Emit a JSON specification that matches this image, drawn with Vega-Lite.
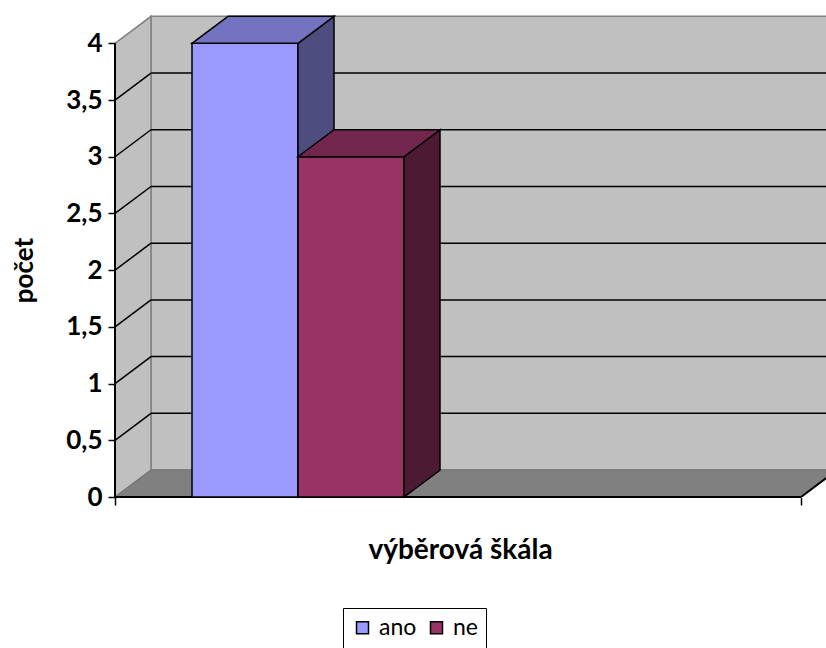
{
  "$schema": "https://vega.github.io/schema/vega-lite/v6.json",
  "width": 711,
  "height": 482,
  "autosize": {"type": "none"},
  "padding": {"left": 115, "top": 15, "right": 0, "bottom": 151},
  "background": "white",
  "config": {"view": {"stroke": null}, "font": "Lato"},
  "datasets": {
    "odpovedi": [
      {"skala": "výběrová škála", "odpoved": "ano", "pocet": 4},
      {"skala": "výběrová škála", "odpoved": "ne", "pocet": 3}
    ],
    "mrizka": [{"v": 0.5}, {"v": 1}, {"v": 1.5}, {"v": 2}, {"v": 2.5}, {"v": 3}, {"v": 3.5}],
    "rovina": [{"plocha": "stěny"}]
  },
  "layer": [
    {
      "data": {"name": "odpovedi"},
      "mark": {"type": "rule", "opacity": 0},
      "encoding": {
        "x": {"datum": 0, "type": "quantitative", "scale": {"domain": [0, 711], "nice": false, "zero": false},
          "axis": {"values": [0, 686], "labels": false, "domain": false, "grid": false, "ticks": true, "tickSize": 8, "tickColor": "black", "tickWidth": 1.5, "zindex": 1,
            "title": "výběrová škála", "titleFont": "Lato", "titleFontSize": 28, "titleFontWeight": "bold", "titleColor": "black", "titleX": 345, "titleY": 53, "titleBaseline": "middle", "titleAlign": "center"}},
        "y": {"field": "pocet", "type": "quantitative", "scale": {"domain": [0, 4.25], "nice": false, "zero": false},
          "axis": {"values": [0, 0.5, 1, 1.5, 2, 2.5, 3, 3.5, 4], "domain": false, "grid": false, "ticks": true, "tickSize": 7, "tickColor": "black", "tickWidth": 1.5, "zindex": 1,
            "labelExpr": "replace(format(datum.value, '~g'), '.', ',')", "labelFont": "Lato", "labelFontSize": 26, "labelFontWeight": "bold", "labelColor": "black", "labelPadding": 6,
            "title": "počet", "titleFont": "Lato", "titleFontSize": 26, "titleFontWeight": "bold", "titleColor": "black", "titleX": -91, "titleY": 255, "titleBaseline": "middle", "titleAlign": "center", "titleAngle": -90}}
      }
    },
    {
      "data": {"name": "rovina"},
      "mark": {"type": "rect", "fill": "#C0C0C0", "stroke": "#808080", "strokeWidth": 1.5, "clip": true},
      "encoding": {
        "x": {"datum": 36, "type": "quantitative"},
        "x2": {"datum": 800},
        "y": {"datum": 0.238, "type": "quantitative"},
        "y2": {"datum": 4.238}
      }
    },
    {
      "data": {"name": "rovina"},
      "transform": [
        {"calculate": "0", "as": "front"},
        {"calculate": "1", "as": "back"},
        {"fold": ["front", "back"], "as": ["strana", "d"]},
        {"calculate": "36 * datum.d", "as": "xw"},
        {"calculate": "0.238 * datum.d", "as": "ylo"},
        {"calculate": "4 + 0.238 * datum.d", "as": "yhi"}
      ],
      "mark": {"type": "area", "orient": "vertical", "fill": "#C0C0C0", "stroke": "#808080", "strokeWidth": 1.5},
      "encoding": {
        "x": {"field": "xw", "type": "quantitative"},
        "y": {"field": "yhi", "type": "quantitative", "stack": null},
        "y2": {"field": "ylo"}
      }
    },
    {
      "data": {"name": "rovina"},
      "transform": [
        {"calculate": "0", "as": "front"},
        {"calculate": "1", "as": "back"},
        {"fold": ["front", "back"], "as": ["strana", "d"]},
        {"calculate": "36 * datum.d", "as": "xl"},
        {"calculate": "686 + 36 * datum.d", "as": "xr"},
        {"calculate": "0.238 * datum.d", "as": "yf"}
      ],
      "mark": {"type": "area", "orient": "horizontal", "fill": "#808080", "stroke": "#707070", "strokeWidth": 1, "clip": true},
      "encoding": {
        "y": {"field": "yf", "type": "quantitative"},
        "x": {"field": "xl", "type": "quantitative", "stack": null},
        "x2": {"field": "xr"}
      }
    },
    {
      "data": {"name": "mrizka"},
      "transform": [{"calculate": "datum.v + 0.238", "as": "yb"}],
      "mark": {"type": "rule", "stroke": "black", "strokeWidth": 1.5, "clip": true},
      "encoding": {
        "x": {"datum": 36, "type": "quantitative"},
        "x2": {"datum": 711},
        "y": {"field": "yb", "type": "quantitative"}
      }
    },
    {
      "data": {"name": "mrizka"},
      "transform": [{"calculate": "datum.v + 0.238", "as": "yb"}],
      "mark": {"type": "rule", "stroke": "black", "strokeWidth": 1.5},
      "encoding": {
        "x": {"datum": 0, "type": "quantitative"},
        "x2": {"datum": 36},
        "y": {"field": "v", "type": "quantitative"},
        "y2": {"field": "yb"}
      }
    },
    {
      "data": {"name": "rovina"},
      "mark": {"type": "rule", "stroke": "black", "strokeWidth": 2},
      "encoding": {
        "x": {"datum": 0, "type": "quantitative"},
        "x2": {"datum": 686},
        "y": {"datum": 0, "type": "quantitative"}
      }
    },
    {
      "data": {"name": "rovina"},
      "mark": {"type": "rule", "stroke": "black", "strokeWidth": 2, "clip": true},
      "encoding": {
        "x": {"datum": 686, "type": "quantitative"},
        "x2": {"datum": 722},
        "y": {"datum": 0, "type": "quantitative"},
        "y2": {"datum": 0.238}
      }
    },
    {
      "data": {"name": "rovina"},
      "mark": {"type": "rule", "stroke": "black", "strokeWidth": 2},
      "encoding": {
        "x": {"datum": 0, "type": "quantitative"},
        "y": {"datum": 0, "type": "quantitative"},
        "y2": {"datum": 4}
      }
    },
    {
      "data": {"name": "odpovedi"},
      "transform": [
        {"filter": "datum.odpoved == 'ano'"},
        {"calculate": "77 + 106 * indexof(['ano', 'ne'], datum.odpoved)", "as": "x0"},
        {"calculate": "datum.x0 + 106", "as": "x1"}
      ],
      "mark": {"type": "rect", "stroke": "black", "strokeWidth": 1.5},
      "encoding": {
        "x": {"field": "x0", "type": "quantitative"},
        "x2": {"field": "x1"},
        "y": {"field": "pocet", "type": "quantitative", "stack": null},
        "y2": {"datum": 0},
        "color": {"field": "odpoved", "type": "nominal", "scale": {"domain": ["ano", "ne"], "range": ["#9999FF", "#993366"]},
          "legend": {"orient": "none", "legendX": 228, "legendY": 593, "direction": "horizontal", "title": null, "strokeColor": "black", "padding": 8,
            "symbolType": "square", "symbolSize": 144, "symbolStrokeColor": "black", "symbolStrokeWidth": 1.5, "symbolOpacity": 1,
            "labelFont": "Lato", "labelFontSize": 23, "labelColor": "black", "labelOffset": 5, "columnPadding": 8}}
      }
    },
    {
      "data": {"name": "odpovedi"},
      "transform": [
        {"filter": "datum.odpoved == 'ano'"},
        {"calculate": "77 + 106 * indexof(['ano', 'ne'], datum.odpoved)", "as": "x0"},
        {"calculate": "datum.x0 + 106", "as": "x1"},
        {"calculate": "0", "as": "front"},
        {"calculate": "1", "as": "back"},
        {"fold": ["front", "back"], "as": ["strana", "d"]},
        {"calculate": "datum.x1 + 36 * datum.d", "as": "xs"},
        {"calculate": "0.238 * datum.d", "as": "ylo"},
        {"calculate": "datum.pocet + 0.238 * datum.d", "as": "yhi"}
      ],
      "mark": {"type": "area", "orient": "vertical", "fill": "#4D4D80", "stroke": "black", "strokeWidth": 1.5},
      "encoding": {
        "x": {"field": "xs", "type": "quantitative"},
        "y": {"field": "yhi", "type": "quantitative", "stack": null},
        "y2": {"field": "ylo"}
      }
    },
    {
      "data": {"name": "odpovedi"},
      "transform": [
        {"filter": "datum.odpoved == 'ano'"},
        {"calculate": "77 + 106 * indexof(['ano', 'ne'], datum.odpoved)", "as": "x0"},
        {"calculate": "datum.x0 + 106", "as": "x1"},
        {"calculate": "0", "as": "front"},
        {"calculate": "1", "as": "back"},
        {"fold": ["front", "back"], "as": ["strana", "d"]},
        {"calculate": "datum.x0 + 36 * datum.d", "as": "xl"},
        {"calculate": "datum.x1 + 36 * datum.d", "as": "xr"},
        {"calculate": "datum.pocet + 0.238 * datum.d", "as": "yt"}
      ],
      "mark": {"type": "area", "orient": "horizontal", "fill": "#7373BF", "stroke": "black", "strokeWidth": 1.5},
      "encoding": {
        "y": {"field": "yt", "type": "quantitative"},
        "x": {"field": "xl", "type": "quantitative", "stack": null},
        "x2": {"field": "xr"}
      }
    },
    {
      "data": {"name": "odpovedi"},
      "transform": [
        {"filter": "datum.odpoved == 'ne'"},
        {"calculate": "77 + 106 * indexof(['ano', 'ne'], datum.odpoved)", "as": "x0"},
        {"calculate": "datum.x0 + 106", "as": "x1"}
      ],
      "mark": {"type": "rect", "stroke": "black", "strokeWidth": 1.5},
      "encoding": {
        "x": {"field": "x0", "type": "quantitative"},
        "x2": {"field": "x1"},
        "y": {"field": "pocet", "type": "quantitative", "stack": null},
        "y2": {"datum": 0},
        "color": {"field": "odpoved", "type": "nominal"}
      }
    },
    {
      "data": {"name": "odpovedi"},
      "transform": [
        {"filter": "datum.odpoved == 'ne'"},
        {"calculate": "77 + 106 * indexof(['ano', 'ne'], datum.odpoved)", "as": "x0"},
        {"calculate": "datum.x0 + 106", "as": "x1"},
        {"calculate": "0", "as": "front"},
        {"calculate": "1", "as": "back"},
        {"fold": ["front", "back"], "as": ["strana", "d"]},
        {"calculate": "datum.x1 + 36 * datum.d", "as": "xs"},
        {"calculate": "0.238 * datum.d", "as": "ylo"},
        {"calculate": "datum.pocet + 0.238 * datum.d", "as": "yhi"}
      ],
      "mark": {"type": "area", "orient": "vertical", "fill": "#4D1A33", "stroke": "black", "strokeWidth": 1.5},
      "encoding": {
        "x": {"field": "xs", "type": "quantitative"},
        "y": {"field": "yhi", "type": "quantitative", "stack": null},
        "y2": {"field": "ylo"}
      }
    },
    {
      "data": {"name": "odpovedi"},
      "transform": [
        {"filter": "datum.odpoved == 'ne'"},
        {"calculate": "77 + 106 * indexof(['ano', 'ne'], datum.odpoved)", "as": "x0"},
        {"calculate": "datum.x0 + 106", "as": "x1"},
        {"calculate": "0", "as": "front"},
        {"calculate": "1", "as": "back"},
        {"fold": ["front", "back"], "as": ["strana", "d"]},
        {"calculate": "datum.x0 + 36 * datum.d", "as": "xl"},
        {"calculate": "datum.x1 + 36 * datum.d", "as": "xr"},
        {"calculate": "datum.pocet + 0.238 * datum.d", "as": "yt"}
      ],
      "mark": {"type": "area", "orient": "horizontal", "fill": "#73264D", "stroke": "black", "strokeWidth": 1.5},
      "encoding": {
        "y": {"field": "yt", "type": "quantitative"},
        "x": {"field": "xl", "type": "quantitative", "stack": null},
        "x2": {"field": "xr"}
      }
    }
  ]
}
